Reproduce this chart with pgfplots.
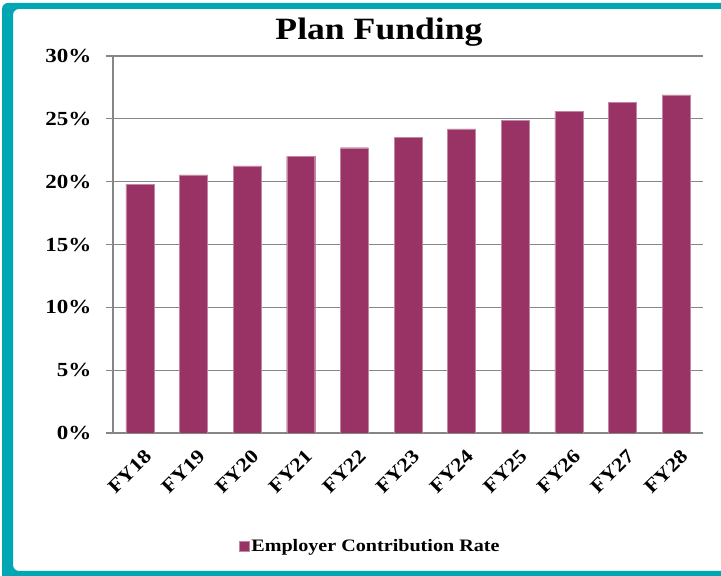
\documentclass[border=0pt]{standalone}
\usepackage{pgfplots}
\pgfplotsset{compat=1.18}
\usepackage{fontspec}
\setmainfont{Liberation Serif}[FakeStretch=1.15]
\definecolor{plum}{HTML}{993366}
\definecolor{frameteal}{HTML}{00A6B4}
\definecolor{gridgray}{HTML}{868686}

\begin{document}
\begin{tikzpicture}[x=1pt,y=1pt]
\useasboundingbox (0,0) rectangle (721,576);
\begin{axis}[
    at={(113pt,143pt)}, anchor=south west,
    width=590pt, height=377pt, scale only axis,
    xmin=-0.5, xmax=10.5, ymin=0, ymax=30,
    axis x line*=bottom, axis y line*=left,
    axis line style={gridgray, line width=1.3pt, -},
    ymajorgrids, grid style={gridgray, line width=1.2pt},
    ytick={0,5,10,15,20,25,30},
    yticklabels={0\%,5\%,10\%,15\%,20\%,25\%,30\%},
    xtick=data,
    xticklabels={FY18,FY19,FY20,FY21,FY22,FY23,FY24,FY25,FY26,FY27,FY28},
    tick align=outside,
    ytick style={gridgray, line width=1.2pt},
    xtick style={draw=none},
    major tick length=7pt,
    y tick label style={font=\bfseries\fontsize{20}{22}\selectfont, xshift=-11pt},
    x tick label style={font=\bfseries\fontsize{19.5}{22}\selectfont, rotate=45, anchor=north east, xshift=0pt, yshift=-5pt},
    legend style={at={(0.436,-0.30)}, anchor=center, draw=none,
        font=\bfseries\fontsize{17.5}{19}\selectfont},
    legend image code/.code={\fill[#1] (0pt,-5pt) rectangle (10pt,5pt);},
]
\addplot[ybar, bar width=28pt, fill=plum, draw=plum!60!white, line width=0.4pt]
    coordinates {(0,19.8) (1,20.55) (2,21.25) (3,22.0) (4,22.7) (5,23.5)
                 (6,24.2) (7,24.9) (8,25.6) (9,26.3) (10,26.9)};
\legend{Employer Contribution Rate}
\end{axis}
\node[font=\bfseries\fontsize{31}{33}\selectfont] at (379,544) {Plan Funding};
\begin{scope}
\clip (0,0) rectangle (721,576);
\fill[frameteal, even odd rule, rounded corners=6pt]
    (2,-20) rectangle (740,573) (13,5) rectangle (730,567);
\end{scope}
\end{tikzpicture}
\end{document}
